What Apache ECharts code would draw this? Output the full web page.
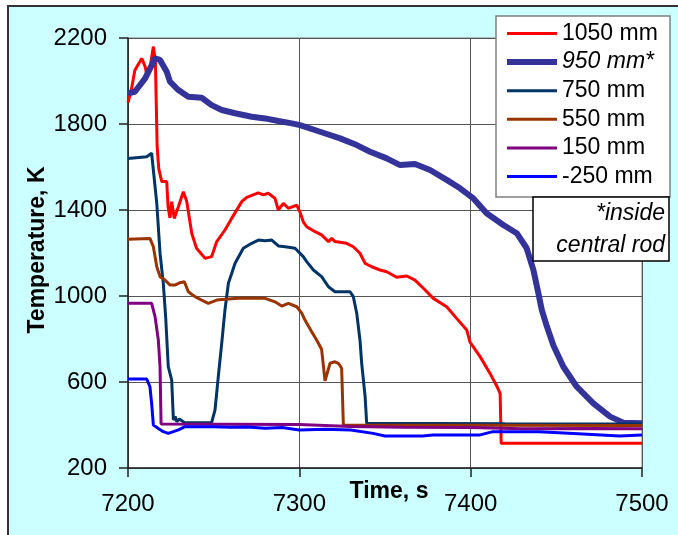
<!DOCTYPE html>
<html>
<head>
<meta charset="utf-8">
<script src="https://cdn.jsdelivr.net/npm/echarts@6/dist/echarts.min.js"></script>
<style>html,body{margin:0;padding:0;background:#fff}#c{width:678px;height:535px}</style>
</head>
<body>
<div id="c"></div>
<script>
// ---- data (time s, temperature K) ----
const seriesNames = ['1050 mm', '950 mm*', '750 mm', '550 mm', '150 mm', '-250 mm'];
const xTicks = [7200, 7300, 7400, 7500];
const yTicks = [200, 600, 1000, 1400, 1800, 2200];

const s1050 = [[7200,1900],[7202,1960],[7204,2050],[7208,2105],[7210,2067],[7211,2028],[7212.8,2059],[7214.8,2160],[7216,2090],[7217,1700],[7217.5,1640],[7218,1590],[7219.7,1532],[7222.6,1532],[7223.4,1415],[7224.5,1363],[7225.5,1439],[7227,1361],[7229.4,1415],[7232.3,1485],[7234.3,1439],[7237.2,1292],[7240,1222],[7245,1175],[7248.8,1183],[7251.8,1253],[7256.6,1307],[7260.5,1361],[7266.4,1439],[7269.3,1459],[7276,1480],[7279,1470],[7281.9,1478],[7285.8,1454],[7287.7,1400],[7290.7,1431],[7293.6,1408],[7298.5,1423],[7300.4,1390],[7302.3,1345],[7304.3,1322],[7309.2,1299],[7313,1284],[7317,1253],[7318.9,1268],[7320.8,1253],[7327.6,1245],[7331.5,1229],[7335.4,1199],[7338.4,1152],[7342.3,1136],[7347.1,1121],[7351,1113],[7356.8,1087],[7362.7,1093],[7367.5,1074],[7372.4,1036],[7378.2,989],[7386,950],[7391.8,896],[7397.7,842],[7399.6,785],[7405.5,718],[7411.3,640],[7415,585],[7417.2,547],[7417.8,315],[7500,315]];

const s950 = [[7200,1943],[7204,1950],[7210,2012],[7215.8,2105],[7218.7,2098],[7222.6,2043],[7224.5,1997],[7229.4,1958],[7235.2,1927],[7243,1922],[7248.8,1888],[7254.7,1865],[7262.5,1850],[7272.2,1834],[7280,1826],[7287.8,1814],[7295.6,1803],[7300.4,1795],[7312.1,1764],[7323.8,1733],[7333.5,1702],[7341.3,1671],[7351,1640],[7358.8,1609],[7367.5,1614],[7376.3,1586],[7386,1540],[7393.8,1501],[7401.6,1454],[7409.3,1385],[7419.1,1330],[7426.9,1292],[7432.7,1222],[7436.6,1121],[7439.5,1013],[7441.5,935],[7444.4,860],[7448.3,770],[7454.1,671],[7461.9,578],[7471.6,501],[7481.4,439],[7489.1,411],[7500,408]];

const s750 = [[7200,1640],[7210.9,1648],[7213.8,1664],[7214.8,1586],[7216.8,1431],[7218.7,1199],[7220.6,1059],[7222,900],[7223.5,671],[7225.5,609],[7226.5,423],[7227.5,440],[7228.5,415],[7230,428],[7233,411],[7248.8,411],[7250.8,470],[7252.7,625],[7254.7,780],[7256.6,935],[7258.6,1059],[7262.5,1152],[7267.3,1222],[7272.2,1245],[7276.1,1260],[7280,1257],[7283.9,1260],[7287.8,1233],[7291.7,1229],[7297.5,1222],[7302.3,1183],[7304.3,1160],[7308.2,1121],[7313,1090],[7317,1043],[7320.8,1020],[7329.6,1020],[7331.5,997],[7333.5,920],[7335.4,795],[7336.4,687],[7338.4,532],[7339.3,408],[7420,406],[7500,405]];

const s550 = [[7200,1264],[7212.8,1268],[7214.8,1229],[7216.8,1136],[7218.7,1090],[7221.6,1074],[7224.5,1051],[7227.4,1051],[7230.4,1062],[7232.9,1066],[7235.2,1020],[7239.1,997],[7243,981],[7246.9,966],[7251.8,981],[7256.6,985],[7264.4,989],[7272.2,989],[7280,989],[7285.8,973],[7289.7,953],[7293.6,966],[7298.5,950],[7301.4,920],[7303.3,888],[7307.2,834],[7310.1,795],[7313,752],[7315,605],[7317.9,687],[7320.8,694],[7322.8,687],[7324.7,664],[7325.7,400],[7400,399],[7500,398]];

const s150 = [[7200,966],[7213.8,966],[7215.8,904],[7217.7,795],[7218.7,671],[7219.3,405],[7300,402],[7330,393],[7360,390],[7400,388],[7430,383],[7470,384],[7500,382]];

const sm250 = [[7200,614],[7210.9,614],[7212.8,578],[7213.8,501],[7214.8,400],[7217.7,384],[7220.6,369],[7223.5,361],[7226.5,369],[7229.4,377],[7233.3,392],[7250,392],[7260,389],[7270,391],[7280,385],[7290,388],[7300,377],[7315,380],[7330,377],[7343,361],[7350,349],[7372,349],[7378,353],[7405,353],[7413,369],[7440,369],[7460,361],[7487,349],[7500,353]];

const seriesData = [s1050, s950, s750, s550, s150, sm250];
const seriesColors = ['#ff0000', '#333399', '#003366', '#993300', '#800080', '#0000ff'];
const seriesWidths = [3, 6, 3, 3, 3, 3];

const FONT = '"Liberation Sans", Arial, sans-serif';

const chart = echarts.init(document.getElementById('c'), null, {renderer: 'canvas'});
chart.setOption({
  backgroundColor: '#ffffff',
  animation: false,
  grid: {
    left: 128, top: 38, right: 36, bottom: 67,
    show: true, backgroundColor: '#ffffff', borderColor: '#808080', borderWidth: 1
  },
  xAxis: {
    type: 'value', min: xTicks[0], max: xTicks[xTicks.length - 1], interval: 100,
    axisLine: {show: true, lineStyle: {color: '#222', width: 1.5}},
    axisTick: {show: true, inside: false, length: 9, lineStyle: {color: '#222', width: 1.5}},
    splitLine: {show: true, lineStyle: {color: '#555', width: 1}},
    axisLabel: {fontSize: 24, color: '#000', fontFamily: FONT, margin: 24, formatter: function (v) { return String(v); }}
  },
  yAxis: {
    type: 'value', min: yTicks[0], max: yTicks[yTicks.length - 1], interval: 400,
    axisLine: {show: true, lineStyle: {color: '#222', width: 1.5}},
    axisTick: {show: true, inside: false, length: 9, lineStyle: {color: '#222', width: 1.5}},
    splitLine: {show: true, lineStyle: {color: '#555', width: 1}},
    axisLabel: {fontSize: 24, color: '#000', fontFamily: FONT, margin: 21, formatter: function (v) { return String(v); }}
  },
  legend: {
    orient: 'vertical', left: 507, top: 22, padding: 0,
    itemWidth: 50, itemHeight: 20, itemGap: 5.6, symbolKeepAspect: true,
    data: seriesNames.map(function (n, i) {
      return {name: n, icon: 'path://M0 0H50V' + seriesWidths[i] + 'H0Z'};
    }),
    formatter: function (n) { return n === '950 mm*' ? '{i|' + n + '}' : n; },
    textStyle: {
      fontSize: 23, color: '#000', fontFamily: FONT, lineHeight: 20,
      rich: {i: {fontSize: 23, fontStyle: 'italic', fontFamily: FONT, color: '#000', lineHeight: 20}}
    },
    z: 20
  },
  graphic: [
    {type: 'rect', z: -100, silent: true, shape: {x: 8, y: 6, width: 720, height: 600},
     style: {fill: '#ccffff', stroke: '#333', lineWidth: 2}},
    {type: 'rect', z: 10, silent: true, shape: {x: 496, y: 16, width: 174, height: 181},
     style: {fill: '#ffffff', stroke: '#808080', lineWidth: 1.5}},
    {type: 'rect', z: 10, silent: true, shape: {x: 533, y: 197, width: 136, height: 64},
     style: {fill: '#ffffff', stroke: '#000', lineWidth: 1.5}},
    {type: 'text', z: 11, silent: true, style: {x: 665, y: 214, text: '*inside', align: 'right', verticalAlign: 'middle', font: 'italic 23px ' + FONT, fill: '#000'}},
    {type: 'text', z: 11, silent: true, style: {x: 665, y: 246, text: 'central rod', align: 'right', verticalAlign: 'middle', font: 'italic 23px ' + FONT, fill: '#000'}},
    {type: 'text', z: 11, silent: true, x: 38, y: 250, rotation: Math.PI / 2,
     style: {x: 0, y: 0, text: 'Temperature, K', align: 'center', verticalAlign: 'middle', font: 'bold 23px ' + FONT, fill: '#000'}},
    {type: 'text', z: 11, silent: true, style: {x: 389, y: 492, text: 'Time, s', align: 'center', verticalAlign: 'middle', font: 'bold 23px ' + FONT, fill: '#000'}}
  ],
  series: seriesNames.map(function (name, i) {
    return {
      name: name, type: 'line', data: seriesData[i], showSymbol: false, symbol: 'none',
      lineStyle: {color: seriesColors[i], width: seriesWidths[i]},
      itemStyle: {color: seriesColors[i]},
      z: 2 + i * 0.01
    };
  })
});
</script>
</body>
</html>
